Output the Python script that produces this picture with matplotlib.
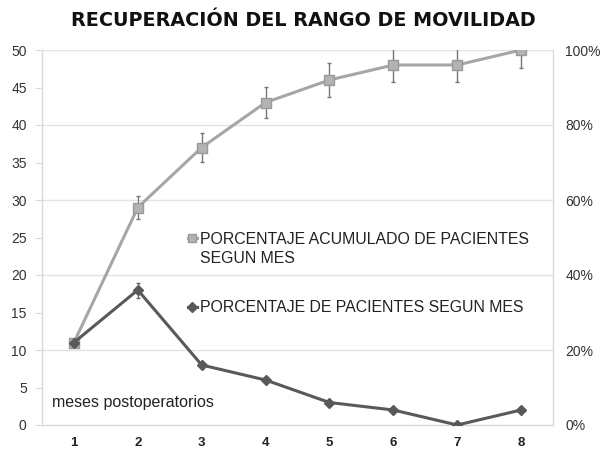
import matplotlib
matplotlib.use("Agg")
import matplotlib.pyplot as plt
from matplotlib.ticker import FixedLocator
from matplotlib.lines import Line2D

months = [1, 2, 3, 4, 5, 6, 7, 8]
acumulado = [11, 29, 37, 43, 46, 48, 48, 50]
acumulado_err = [0, 1.5, 1.9, 2.1, 2.3, 2.3, 2.3, 2.4]
por_mes = [11, 18, 8, 6, 3, 2, 0, 2]
por_mes_err = [0, 1, 0, 0, 0, 0, 0, 0]
left_ticks = [0, 5, 10, 15, 20, 25, 30, 35, 40, 45, 50]
right_labels = ["0%", "20%", "40%", "60%", "80%", "100%"]

plt.rcParams['font.family'] = ['Liberation Sans', 'DejaVu Sans']

fig = plt.figure(figsize=(6.04, 4.51), dpi=100)
ax = fig.add_axes([42/604, 1-425/451, (553-42)/604, (425-50)/451])

light = '#a6a6a6'
dark = '#595959'
grid = '#e3e3e3'

for g in [10, 20, 30, 40, 50]:
    ax.axhline(g, color=grid, lw=1.0, zorder=0)

ax.errorbar(months, acumulado, yerr=acumulado_err, color=light, lw=2.2,
            marker='s', ms=6.5, mfc='#b3b3b3', mec='#999999',
            ecolor='#777777', elinewidth=1.0, capsize=1.2, zorder=3)
ax.errorbar(months, por_mes, yerr=por_mes_err, color=dark, lw=2.2,
            marker='D', ms=5, mfc=dark, mec=dark,
            ecolor='#666666', elinewidth=1.0, capsize=1.2, zorder=4)

h1 = Line2D([], [], color=light, lw=2.2, marker='s', ms=6, mfc='#b3b3b3', mec='#999999')
h_blank = Line2D([], [], color='none', lw=0, marker=None)
h2 = Line2D([], [], color=dark, lw=2.2, marker='D', ms=5, mfc=dark, mec=dark)

ax.set_xlim(0.5, 8.5)
ax.set_ylim(0, 50)
ax.set_xticks(months)
ax.set_xticklabels([str(m) for m in months], fontweight='bold', fontsize=9.5,
                   color='#222222')
ax.yaxis.set_major_locator(FixedLocator(left_ticks))
ax.set_yticklabels([str(t) for t in left_ticks], fontsize=10, color='#333333')
ax.tick_params(axis='x', length=0, pad=9)
ax.tick_params(axis='y', length=5, width=0.8, color='#d9d9d9', pad=6)

for s in ['left', 'right', 'bottom']:
    ax.spines[s].set_color('#d9d9d9')
    ax.spines[s].set_linewidth(1.0)
ax.spines['top'].set_visible(False)

ax2 = ax.twinx()
ax2.set_ylim(0, 1)
ax2.set_yticks([0, 0.2, 0.4, 0.6, 0.8, 1.0])
ax2.set_yticklabels(right_labels, fontsize=10, color='#333333')
ax2.tick_params(axis='y', length=0, pad=9)
for s in ax2.spines.values():
    s.set_visible(False)

leg1 = ax.legend(handles=[h1, h_blank],
                 labels=['PORCENTAJE ACUMULADO DE PACIENTES', 'SEGUN MES'],
                 loc='upper left', bbox_to_anchor=(0.285, 0.516),
                 frameon=False, fontsize=11.4, handlelength=0.6, handletextpad=0.2,
                 borderaxespad=0, borderpad=0, labelspacing=0.3)
for t in leg1.get_texts():
    t.set_color('#222222')
ax.add_artist(leg1)
leg2 = ax.legend(handles=[h2], labels=['PORCENTAJE DE PACIENTES SEGUN MES'],
                 loc='upper left', bbox_to_anchor=(0.285, 0.332),
                 frameon=False, fontsize=11.4, handlelength=0.6, handletextpad=0.2,
                 borderaxespad=0, borderpad=0)
for t in leg2.get_texts():
    t.set_color('#222222')

ax.text(0.02, 0.04, 'meses postoperatorios', transform=ax.transAxes,
        fontsize=11.5, color='#222222', ha='left', va='bottom')

fig.text(0.503, 1-21/451, 'RECUPERACIÓN DEL RANGO DE MOVILIDAD',
         fontsize=13.8, fontweight='bold', ha='center', va='center',
         family='DejaVu Sans', color='#111111')

fig.savefig('out.png', dpi=100)
